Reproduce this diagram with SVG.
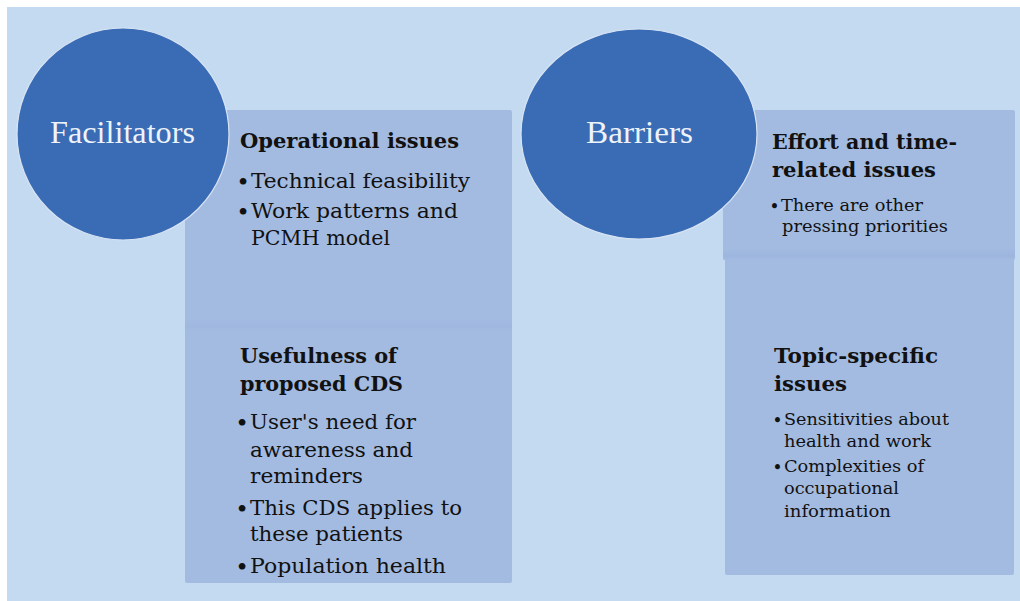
<svg xmlns="http://www.w3.org/2000/svg" width="1020" height="601" viewBox="0 0 1020 601">
<defs>
<style>
.box{fill:#a3bbe1}
.circ{fill:#3a6cb5;stroke:#d8e4f4;stroke-width:1.2}
.ct{font-family:"Liberation Serif",serif;font-size:31px;fill:#eef3fa}
.h{font-family:"DejaVu Serif",serif;font-weight:bold;font-size:20.5px;fill:#111}
.b{font-family:"DejaVu Serif",serif;font-size:21px;fill:#111}
.s{font-family:"DejaVu Serif",serif;font-size:16px;fill:#111}
.bu{font-family:"DejaVu Serif",serif;font-size:19px;font-weight:bold;fill:#111}
.bs{font-family:"DejaVu Serif",serif;font-size:14px;font-weight:bold;fill:#111}
</style>
<linearGradient id="band" x1="0" y1="0" x2="0" y2="1">
<stop offset="0" stop-color="#98b2db" stop-opacity="0"/>
<stop offset="0.6" stop-color="#98b2db" stop-opacity="0.6"/>
<stop offset="1" stop-color="#a3bbe1" stop-opacity="0"/>
</linearGradient>
</defs>
<rect x="0" y="0" width="1020" height="601" fill="#ffffff"/>
<rect x="7" y="7" width="1013" height="594" fill="#c4daf1"/>

<g id="facilitators-box">
<rect class="box" x="185" y="110" width="327" height="473" rx="2"/>
<rect x="185" y="320" width="327" height="12" fill="url(#band)" opacity="0.6"/>
<text class="h" x="240" y="148" textLength="219" lengthAdjust="spacingAndGlyphs">Operational issues</text>
<text class="bu" x="237" y="188">•</text>
<text class="b" x="251" y="188" textLength="219" lengthAdjust="spacingAndGlyphs">Technical feasibility</text>
<text class="bu" x="237" y="218">•</text>
<text class="b" x="251" y="218" textLength="207" lengthAdjust="spacingAndGlyphs">Work patterns and</text>
<text class="b" x="251" y="245" textLength="139" lengthAdjust="spacingAndGlyphs">PCMH model</text>
<text class="h" x="240" y="363" textLength="157" lengthAdjust="spacingAndGlyphs">Usefulness of</text>
<text class="h" x="240" y="391" textLength="163" lengthAdjust="spacingAndGlyphs">proposed CDS</text>
<text class="bu" x="236" y="429">•</text>
<text class="b" x="250" y="429" textLength="166" lengthAdjust="spacingAndGlyphs">User's need for</text>
<text class="b" x="250" y="457" textLength="163" lengthAdjust="spacingAndGlyphs">awareness and</text>
<text class="b" x="250" y="483" textLength="113" lengthAdjust="spacingAndGlyphs">reminders</text>
<text class="bu" x="236" y="515">•</text>
<text class="b" x="250" y="515" textLength="212" lengthAdjust="spacingAndGlyphs">This CDS applies to</text>
<text class="b" x="250" y="541" textLength="153" lengthAdjust="spacingAndGlyphs">these patients</text>
<text class="bu" x="236" y="573">•</text>
<text class="b" x="250" y="573" textLength="196" lengthAdjust="spacingAndGlyphs">Population health</text>
</g>

<g id="facilitators">
<circle class="circ" cx="123" cy="134" r="106"/>
<text class="ct" x="50" y="143" textLength="145" lengthAdjust="spacingAndGlyphs">Facilitators</text>
</g>

<g id="barriers-box">
<rect class="box" x="725" y="256" width="289" height="319" rx="2"/>
<rect class="box" x="723" y="110" width="292" height="150" rx="2"/>
<rect x="723" y="249" width="292" height="12" fill="url(#band)"/>
<text class="h" x="772" y="149" textLength="185" lengthAdjust="spacingAndGlyphs">Effort and time-</text>
<text class="h" x="772" y="177" textLength="164" lengthAdjust="spacingAndGlyphs">related issues</text>
<text class="bs" x="770" y="211">•</text>
<text class="s" x="781" y="211" textLength="142" lengthAdjust="spacingAndGlyphs">There are other</text>
<text class="s" x="782" y="232" textLength="166" lengthAdjust="spacingAndGlyphs">pressing priorities</text>
<text class="h" x="774" y="363" textLength="164" lengthAdjust="spacingAndGlyphs">Topic-specific</text>
<text class="h" x="774" y="391" textLength="73" lengthAdjust="spacingAndGlyphs">issues</text>
<text class="bs" x="773" y="425">•</text>
<text class="s" x="784" y="425" textLength="165" lengthAdjust="spacingAndGlyphs">Sensitivities about</text>
<text class="s" x="784" y="447" textLength="147" lengthAdjust="spacingAndGlyphs">health and work</text>
<text class="bs" x="773" y="472">•</text>
<text class="s" x="784" y="472" textLength="140" lengthAdjust="spacingAndGlyphs">Complexities of</text>
<text class="s" x="784" y="494" textLength="115" lengthAdjust="spacingAndGlyphs">occupational</text>
<text class="s" x="784" y="517" textLength="107" lengthAdjust="spacingAndGlyphs">information</text>
</g>

<g id="barriers">
<ellipse class="circ" cx="639" cy="134" rx="118" ry="105"/>
<text class="ct" x="586" y="143" textLength="107" lengthAdjust="spacingAndGlyphs">Barriers</text>
</g>

<g id="connectors"></g>
</svg>
